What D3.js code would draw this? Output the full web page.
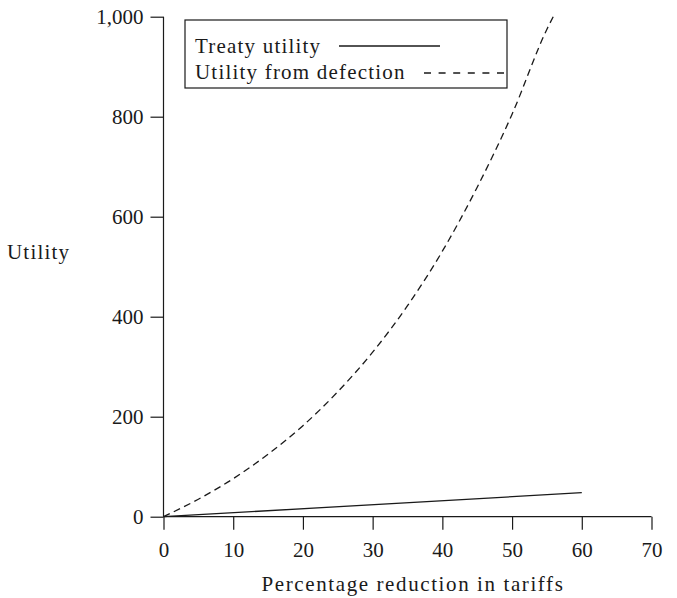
<!DOCTYPE html>
<html><head><meta charset="utf-8">
<script src="https://cdn.jsdelivr.net/npm/d3@7"></script>
<style>body{margin:0;background:#fff}</style>
</head><body>
<svg id="c" width="677" height="598"></svg>
<script>
const xTicks = [0,10,20,30,40,50,60,70];
const yTicks = [0,200,400,600,800,1000];
const treatyX = [0,60];
const treatyY = [0,48];
const defectX = [0,5,10,15,20,25,30,35,40,45,50,55,55.9];
const defectY = [0,35,76,125,182,250,329,422,531,659,805,975,1000];
const legendLabels = ["Treaty utility","Utility from defection"];
const xTitle = "Percentage reduction in tariffs";
const yTitle = "Utility";

const svg = d3.select("#c");
const font = "'Liberation Serif', 'Times New Roman', serif";
const ink = "#1a1a1a";
const x = d3.scaleLinear().domain([0,70]).range([163.5,651.5]);
const y = d3.scaleLinear().domain([0,1000]).range([516.7,16.7]);

const xa = svg.append("g").attr("transform",`translate(0,${y(0)})`)
  .call(d3.axisBottom(x).tickValues(xTicks).tickSize(13).tickPadding(12).tickSizeOuter(0).tickFormat(d3.format("d")));
const ya = svg.append("g").attr("transform",`translate(${x(0)},0)`)
  .call(d3.axisLeft(y).tickValues(yTicks).tickSize(13).tickPadding(7).tickSizeOuter(0).tickFormat(d3.format(",")));
[xa,ya].forEach(a=>{
  a.selectAll("path,line").attr("stroke",ink).attr("stroke-width",1.2);
  a.selectAll("text").attr("fill",ink).style("font-family",font).style("font-size","21px");
});
xa.select(".domain").attr("d",`M${x(0)},0H${x(70)}`);
ya.select(".domain").attr("d",`M0,${y(0)}V${y(1000)}`);

const line = d3.line().x(d=>x(d[0])).y(d=>y(d[1]));
svg.append("path").datum(treatyX.map((v,i)=>[v,treatyY[i]]))
  .attr("d",line).attr("fill","none").attr("stroke",ink).attr("stroke-width",1.3);
svg.append("path").datum(defectX.map((v,i)=>[v,defectY[i]]))
  .attr("d",line.curve(d3.curveMonotoneX)).attr("fill","none").attr("stroke",ink)
  .attr("stroke-width",1.3).attr("stroke-dasharray","7,4.5");

// legend
const lg = svg.append("g");
lg.append("rect").attr("x",185).attr("y",20).attr("width",322).attr("height",68)
  .attr("fill","#fff").attr("stroke",ink).attr("stroke-width",1.2);
lg.append("text").attr("x",195).attr("y",53).text(legendLabels[0]);
lg.append("text").attr("x",195).attr("y",79).text(legendLabels[1]);
lg.selectAll("text").attr("fill",ink).style("font-family",font).style("font-size","21px").style("letter-spacing","1.2px");
lg.append("line").attr("x1",339).attr("x2",440).attr("y1",46).attr("y2",46).attr("stroke",ink).attr("stroke-width",1.3);
lg.append("line").attr("x1",424).attr("x2",504).attr("y1",73).attr("y2",73).attr("stroke",ink).attr("stroke-width",1.3).attr("stroke-dasharray","7,7.6");

svg.append("text").attr("x",7).attr("y",259).text(yTitle)
  .attr("fill",ink).style("font-family",font).style("font-size","21px").style("letter-spacing","1.2px");
svg.append("text").attr("x",413).attr("y",591).attr("text-anchor","middle").text(xTitle)
  .attr("fill",ink).style("font-family",font).style("font-size","21px").style("letter-spacing","1.6px");
</script>
</body></html>
